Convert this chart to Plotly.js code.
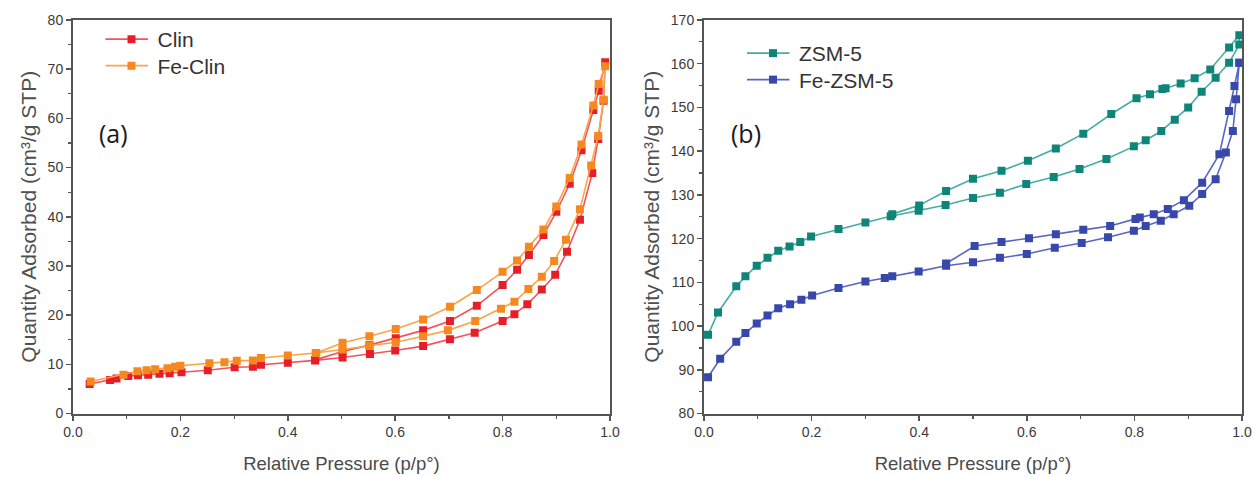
<!DOCTYPE html>
<html>
<head>
<meta charset="utf-8">
<script src="https://cdn.plot.ly/plotly-3.0.1.min.js"></script>
<style>html,body{margin:0;padding:0;background:#fff}#chart{width:1254px;height:477px}</style>
</head>
<body>
<div id="chart"></div>
<script>
// ---- Panel (a): Clin / Fe-Clin (adsorption then desorption) ----
const clinAdsP = [0.031,0.069,0.081,0.103,0.121,0.140,0.161,0.180,0.202,0.251,0.301,0.335,0.350,0.400,0.451,0.502,0.553,0.600,0.652,0.702,0.748,0.800,0.822,0.846,0.873,0.898,0.920,0.944,0.967,0.978,0.988,0.991];
const clinAdsQ = [6.0,6.8,7.1,7.6,7.8,7.9,8.1,8.2,8.4,8.8,9.4,9.5,9.9,10.3,10.8,11.4,12.1,12.8,13.7,15.1,16.4,18.8,20.2,22.2,25.2,28.2,32.9,39.4,48.9,55.8,63.6,71.4];
const clinDesP = [0.979,0.969,0.947,0.925,0.900,0.876,0.849,0.827,0.800,0.752,0.702,0.652,0.601,0.552,0.502,0.451];
const clinDesQ = [65.6,61.7,53.5,46.7,41.0,36.3,32.2,29.2,26.1,21.9,18.8,16.9,15.3,13.9,12.6,10.9];

const feClinAdsP = [0.033,0.094,0.120,0.137,0.153,0.176,0.190,0.200,0.254,0.282,0.305,0.335,0.350,0.400,0.452,0.502,0.552,0.601,0.652,0.698,0.749,0.797,0.822,0.848,0.873,0.896,0.918,0.944,0.965,0.978,0.988,0.991];
const feClinAdsQ = [6.5,7.9,8.6,8.8,9.0,9.2,9.5,9.7,10.2,10.4,10.7,10.8,11.3,11.8,12.3,13.0,13.7,14.5,15.7,16.9,18.8,21.3,22.7,25.3,27.8,31.0,35.3,41.5,50.4,56.4,63.8,70.6];
const feClinDesP = [0.979,0.969,0.947,0.925,0.900,0.876,0.849,0.827,0.800,0.752,0.702,0.652,0.601,0.552,0.502,0.453];
const feClinDesQ = [67.0,62.6,54.7,47.9,42.1,37.4,33.9,31.1,28.8,25.1,21.7,19.1,17.2,15.7,14.4,12.3];

// ---- Panel (b): ZSM-5 / Fe-ZSM-5 ----
const zsmAdsP = [0.0075,0.026,0.060,0.077,0.098,0.118,0.138,0.159,0.179,0.199,0.250,0.300,0.347,0.399,0.449,0.500,0.550,0.599,0.650,0.698,0.748,0.799,0.821,0.850,0.875,0.900,0.925,0.951,0.976,0.995];
const zsmAdsQ = [98.0,103.1,109.1,111.4,113.8,115.6,117.2,118.2,119.2,120.5,122.2,123.7,125.1,126.4,127.7,129.3,130.5,132.5,134.1,135.9,138.2,141.1,142.5,144.6,147.2,150.0,153.6,156.8,160.2,164.4];
const zsmDesP = [0.995,0.976,0.941,0.912,0.886,0.858,0.852,0.829,0.804,0.757,0.705,0.654,0.602,0.553,0.500,0.450,0.400,0.350];
const zsmDesQ = [166.5,163.7,158.7,156.7,155.5,154.4,154.2,153.0,152.1,148.5,144.0,140.6,137.8,135.5,133.7,130.9,127.6,125.6];

const feZsmAdsP = [0.0075,0.030,0.060,0.077,0.098,0.118,0.138,0.160,0.181,0.201,0.250,0.300,0.336,0.350,0.399,0.450,0.500,0.550,0.600,0.652,0.702,0.751,0.799,0.821,0.849,0.873,0.902,0.926,0.951,0.970,0.983,0.989,0.995];
const feZsmAdsQ = [88.3,92.5,96.4,98.4,100.6,102.4,104.1,105.0,106.0,107.0,108.7,110.2,111.0,111.4,112.5,113.8,114.6,115.6,116.5,117.9,119.0,120.3,121.8,122.9,124.1,125.6,127.5,130.2,133.6,139.7,144.6,151.9,160.2];
const feZsmDesP = [0.995,0.986,0.976,0.958,0.926,0.892,0.862,0.836,0.810,0.802,0.755,0.705,0.654,0.604,0.553,0.503,0.450];
const feZsmDesQ = [160.2,154.9,149.2,139.3,132.8,128.8,126.8,125.6,124.8,124.5,122.9,122.0,121.0,120.1,119.2,118.3,114.3];

const xTitle = 'Relative Pressure (p/p°)';
const yTitle = 'Quantity Adsorbed (cm³/g STP)';
const panelLabels = ['(a)', '(b)'];
const names = ['Clin', 'Fe-Clin', 'ZSM-5', 'Fe-ZSM-5'];

function mk(name, xs, ys, mcol, lcol, xa, ya, leg) {
  return {
    type: 'scatter', mode: 'lines+markers', name: name,
    x: xs, y: ys, xaxis: xa, yaxis: ya, legend: leg,
    line: {color: lcol, width: 1.6},
    marker: {symbol: 'square', size: 8, color: mcol, line: {width: 0}}
  };
}

const data = [
  mk(names[0], clinAdsP.concat(clinDesP), clinAdsQ.concat(clinDesQ), '#e61e2a', '#f2545c', 'x', 'y', 'legend'),
  mk(names[1], feClinAdsP.concat(feClinDesP), feClinAdsQ.concat(feClinDesQ), '#f5891f', '#f9a44a', 'x', 'y', 'legend'),
  mk(names[2], zsmAdsP.concat(zsmDesP), zsmAdsQ.concat(zsmDesQ), '#0f8478', '#45ada2', 'x2', 'y2', 'legend2'),
  mk(names[3], feZsmAdsP.concat(feZsmDesP), feZsmAdsQ.concat(feZsmDesQ), '#3747aa', '#5b66c2', 'x2', 'y2', 'legend2')
];

const FAM = 'Arial, Liberation Sans, sans-serif';
const tickFont = {family: FAM, size: 14, color: '#3a3a3a'};

function xax(domain, anchor) {
  return {
    domain: domain, anchor: anchor, range: [0, 1], dtick: 0.2, tick0: 0, tickformat: '.1f',
    showgrid: false, zeroline: false, showline: true, linecolor: '#555', linewidth: 2, mirror: true,
    ticks: 'outside', ticklen: 5, tickwidth: 1.5, tickcolor: '#555',
    minor: {dtick: 0.1, ticks: 'outside', ticklen: 3, tickwidth: 1.2, tickcolor: '#555'},
    tickfont: tickFont, automargin: false,
    title: {text: xTitle, font: {family: FAM, size: 18.5, color: '#4a4a4a'}, standoff: 18}
  };
}
function yax(domain, anchor, range) {
  return {
    domain: domain, anchor: anchor, range: range, dtick: 10, tick0: 0,
    showgrid: false, zeroline: false, showline: true, linecolor: '#555', linewidth: 2, mirror: true,
    ticks: 'outside', ticklen: 5, tickwidth: 1.5, tickcolor: '#555',
    minor: {dtick: 5, ticks: 'outside', ticklen: 3, tickwidth: 1.2, tickcolor: '#555'},
    tickfont: tickFont, automargin: false,
    title: {text: yTitle, font: {family: FAM, size: 21, color: '#505050'}, standoff: 5}
  };
}

const W = 1254, H = 477;
const yDom = [(H - 413.5) / H, (H - 20) / H];
const legFont = {family: FAM, size: 21, color: '#333'};
const layout = {
  width: W, height: H, paper_bgcolor: '#fff', plot_bgcolor: '#fff',
  margin: {l: 0, r: 0, t: 0, b: 0},
  xaxis: xax([73 / W, 610 / W], 'y'),
  yaxis: yax(yDom, 'x', [0, 80]),
  xaxis2: xax([704 / W, 1242 / W], 'y2'),
  yaxis2: yax(yDom, 'x2', [80, 170]),
  legend: {x: 105.5 / W, y: (H - 19) / H, xanchor: 'left', yanchor: 'top', bgcolor: 'rgba(0,0,0,0)',
    font: legFont, tracegroupgap: 0, itemwidth: 42},
  legend2: {x: 747 / W, y: (H - 33) / H, xanchor: 'left', yanchor: 'top', bgcolor: 'rgba(0,0,0,0)',
    font: legFont, tracegroupgap: 0, itemwidth: 42},
  annotations: [
    {text: panelLabels[0], xref: 'paper', yref: 'paper', x: 97 / W, y: (H - 133) / H, xanchor: 'left', yanchor: 'middle',
     showarrow: false, font: {family: 'Open Sans, sans-serif', size: 25, color: '#1a1a1a'}},
    {text: panelLabels[1], xref: 'paper', yref: 'paper', x: 729 / W, y: (H - 133) / H, xanchor: 'left', yanchor: 'middle',
     showarrow: false, font: {family: 'Open Sans, sans-serif', size: 25, color: '#1a1a1a'}}
  ]
};

Plotly.newPlot('chart', data, layout, {displayModeBar: false, staticPlot: true}).then(function () {
  // lengthen legend line samples to match the reference look
  document.querySelectorAll('g.legendlines path').forEach(function (p) {
    p.setAttribute('d', 'M-2.5,0h45');
  });
  // tighten legend row spacing
  ['g.legend', 'g.legend2'].forEach(function (sel) {
    const lg = document.querySelector(sel);
    if (!lg) return;
    const items = lg.querySelectorAll('g.traces');
    if (!items.length) return;
    const m0 = /translate\(\s*([-\d.]+)[ ,]+([-\d.]+)\s*\)/.exec(items[0].getAttribute('transform') || '');
    if (!m0) return;
    const x0 = parseFloat(m0[1]), y0 = parseFloat(m0[2]);
    items.forEach(function (it, i) {
      it.setAttribute('transform', 'translate(' + x0 + ',' + (y0 + i * 26.5) + ')');
    });
  });
});
</script>
</body>
</html>
